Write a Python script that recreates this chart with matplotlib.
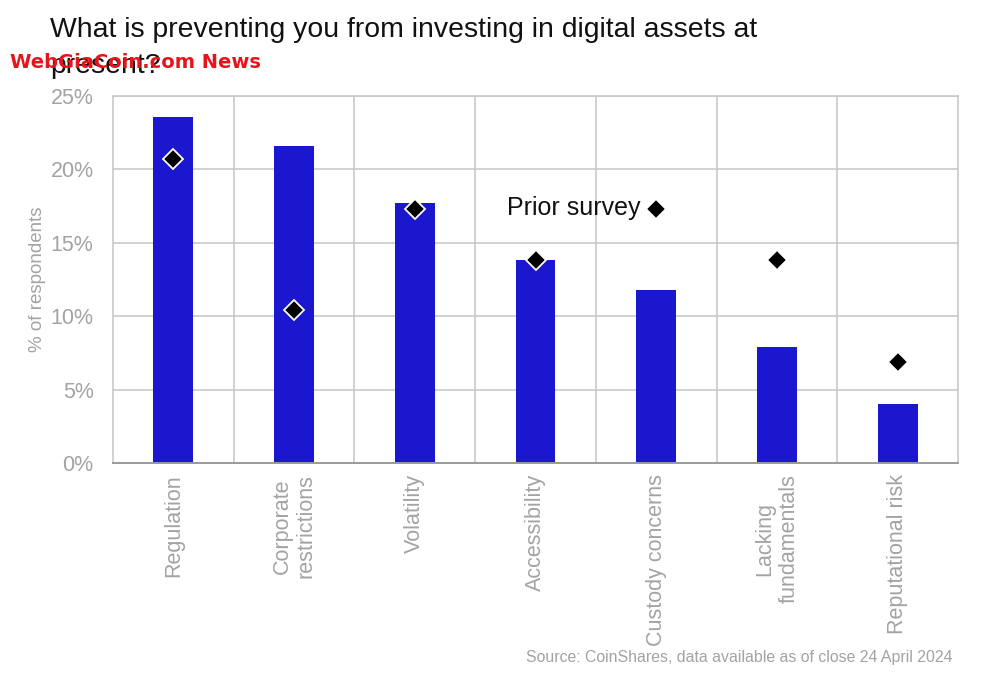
import matplotlib
matplotlib.use('Agg')
from matplotlib import pyplot as plt
from matplotlib.ticker import FuncFormatter

categories = ['Regulation', 'Corporate\nrestrictions', 'Volatility', 'Accessibility',
              'Custody concerns', 'Lacking\nfundamentals', 'Reputational risk']
current = [23.6, 21.6, 17.7, 13.8, 11.8, 7.9, 4.0]
prior = [20.7, 10.4, 17.3, 13.8, 17.3, 13.8, 6.9]
y_ticks = [0, 5, 10, 15, 20, 25]

BLUE = '#1b17cf'
GRAY = '#a3a3a3'
GRID = '#c9c9c9'

plt.rcParams['font.family'] = ['Liberation Sans', 'DejaVu Sans']

fig = plt.figure(figsize=(10.02, 6.79), dpi=100)
ax = fig.add_axes([0.1128, 0.3181, 0.8433, 0.5405])

x = list(range(len(categories)))
ax.bar(x, current, width=0.33, color=BLUE, zorder=2)
ax.plot(x, prior, linestyle='none', marker='D', markersize=10,
        markerfacecolor='black', markeredgecolor='white', markeredgewidth=1.3, zorder=3)

# the legend label sits next to the custody-concerns diamond
ax.text(3.87, 17.35, 'Prior survey', fontsize=18, color='#111111', ha='right',
        va='center', zorder=4)

ax.set_xlim(-0.5, len(categories) - 0.5)
ax.set_ylim(0, 25)
ax.set_yticks(y_ticks)
ax.yaxis.set_major_formatter(FuncFormatter(lambda v, p: '{:.0f}%'.format(v)))
ax.set_xticks([i + 0.5 for i in x[:-1]], minor=True)
ax.set_xticks(x)
ax.set_xticklabels(categories, rotation=90, ha='center', va='top',
                   multialignment='center', fontsize=15.5, color=GRAY)
ax.tick_params(axis='y', labelsize=15.5, labelcolor=GRAY, length=0, pad=14)
ax.tick_params(axis='x', which='both', length=0, pad=8)
ax.grid(axis='y', color=GRID, linewidth=1.2, zorder=0)
ax.grid(axis='x', which='minor', color=GRID, linewidth=1.2, zorder=0)
for s in ['top', 'right', 'left']:
    ax.spines[s].set_color(GRID)
    ax.spines[s].set_linewidth(1.2)
ax.spines['bottom'].set_color('#9a9a9a')
ax.spines['bottom'].set_linewidth(1.4)

ax.set_ylabel('% of respondents', fontsize=13.5, color=GRAY, labelpad=3)

fig.text(0.05, 0.975, 'What is preventing you from investing in digital assets at\npresent?',
         fontsize=20.4, color='#111111', ha='left', va='top', linespacing=1.5)
fig.text(0.01, 0.908, 'WebGiaCoin.com News', fontsize=14, color='#e8141c',
         fontweight='bold', ha='left', va='center', family=['DejaVu Sans'])
fig.text(0.951, 0.031, 'Source: CoinShares, data available as of close 24 April 2024',
         fontsize=11.4, color=GRAY, ha='right', va='center')

fig.savefig('out.png', dpi=100)
